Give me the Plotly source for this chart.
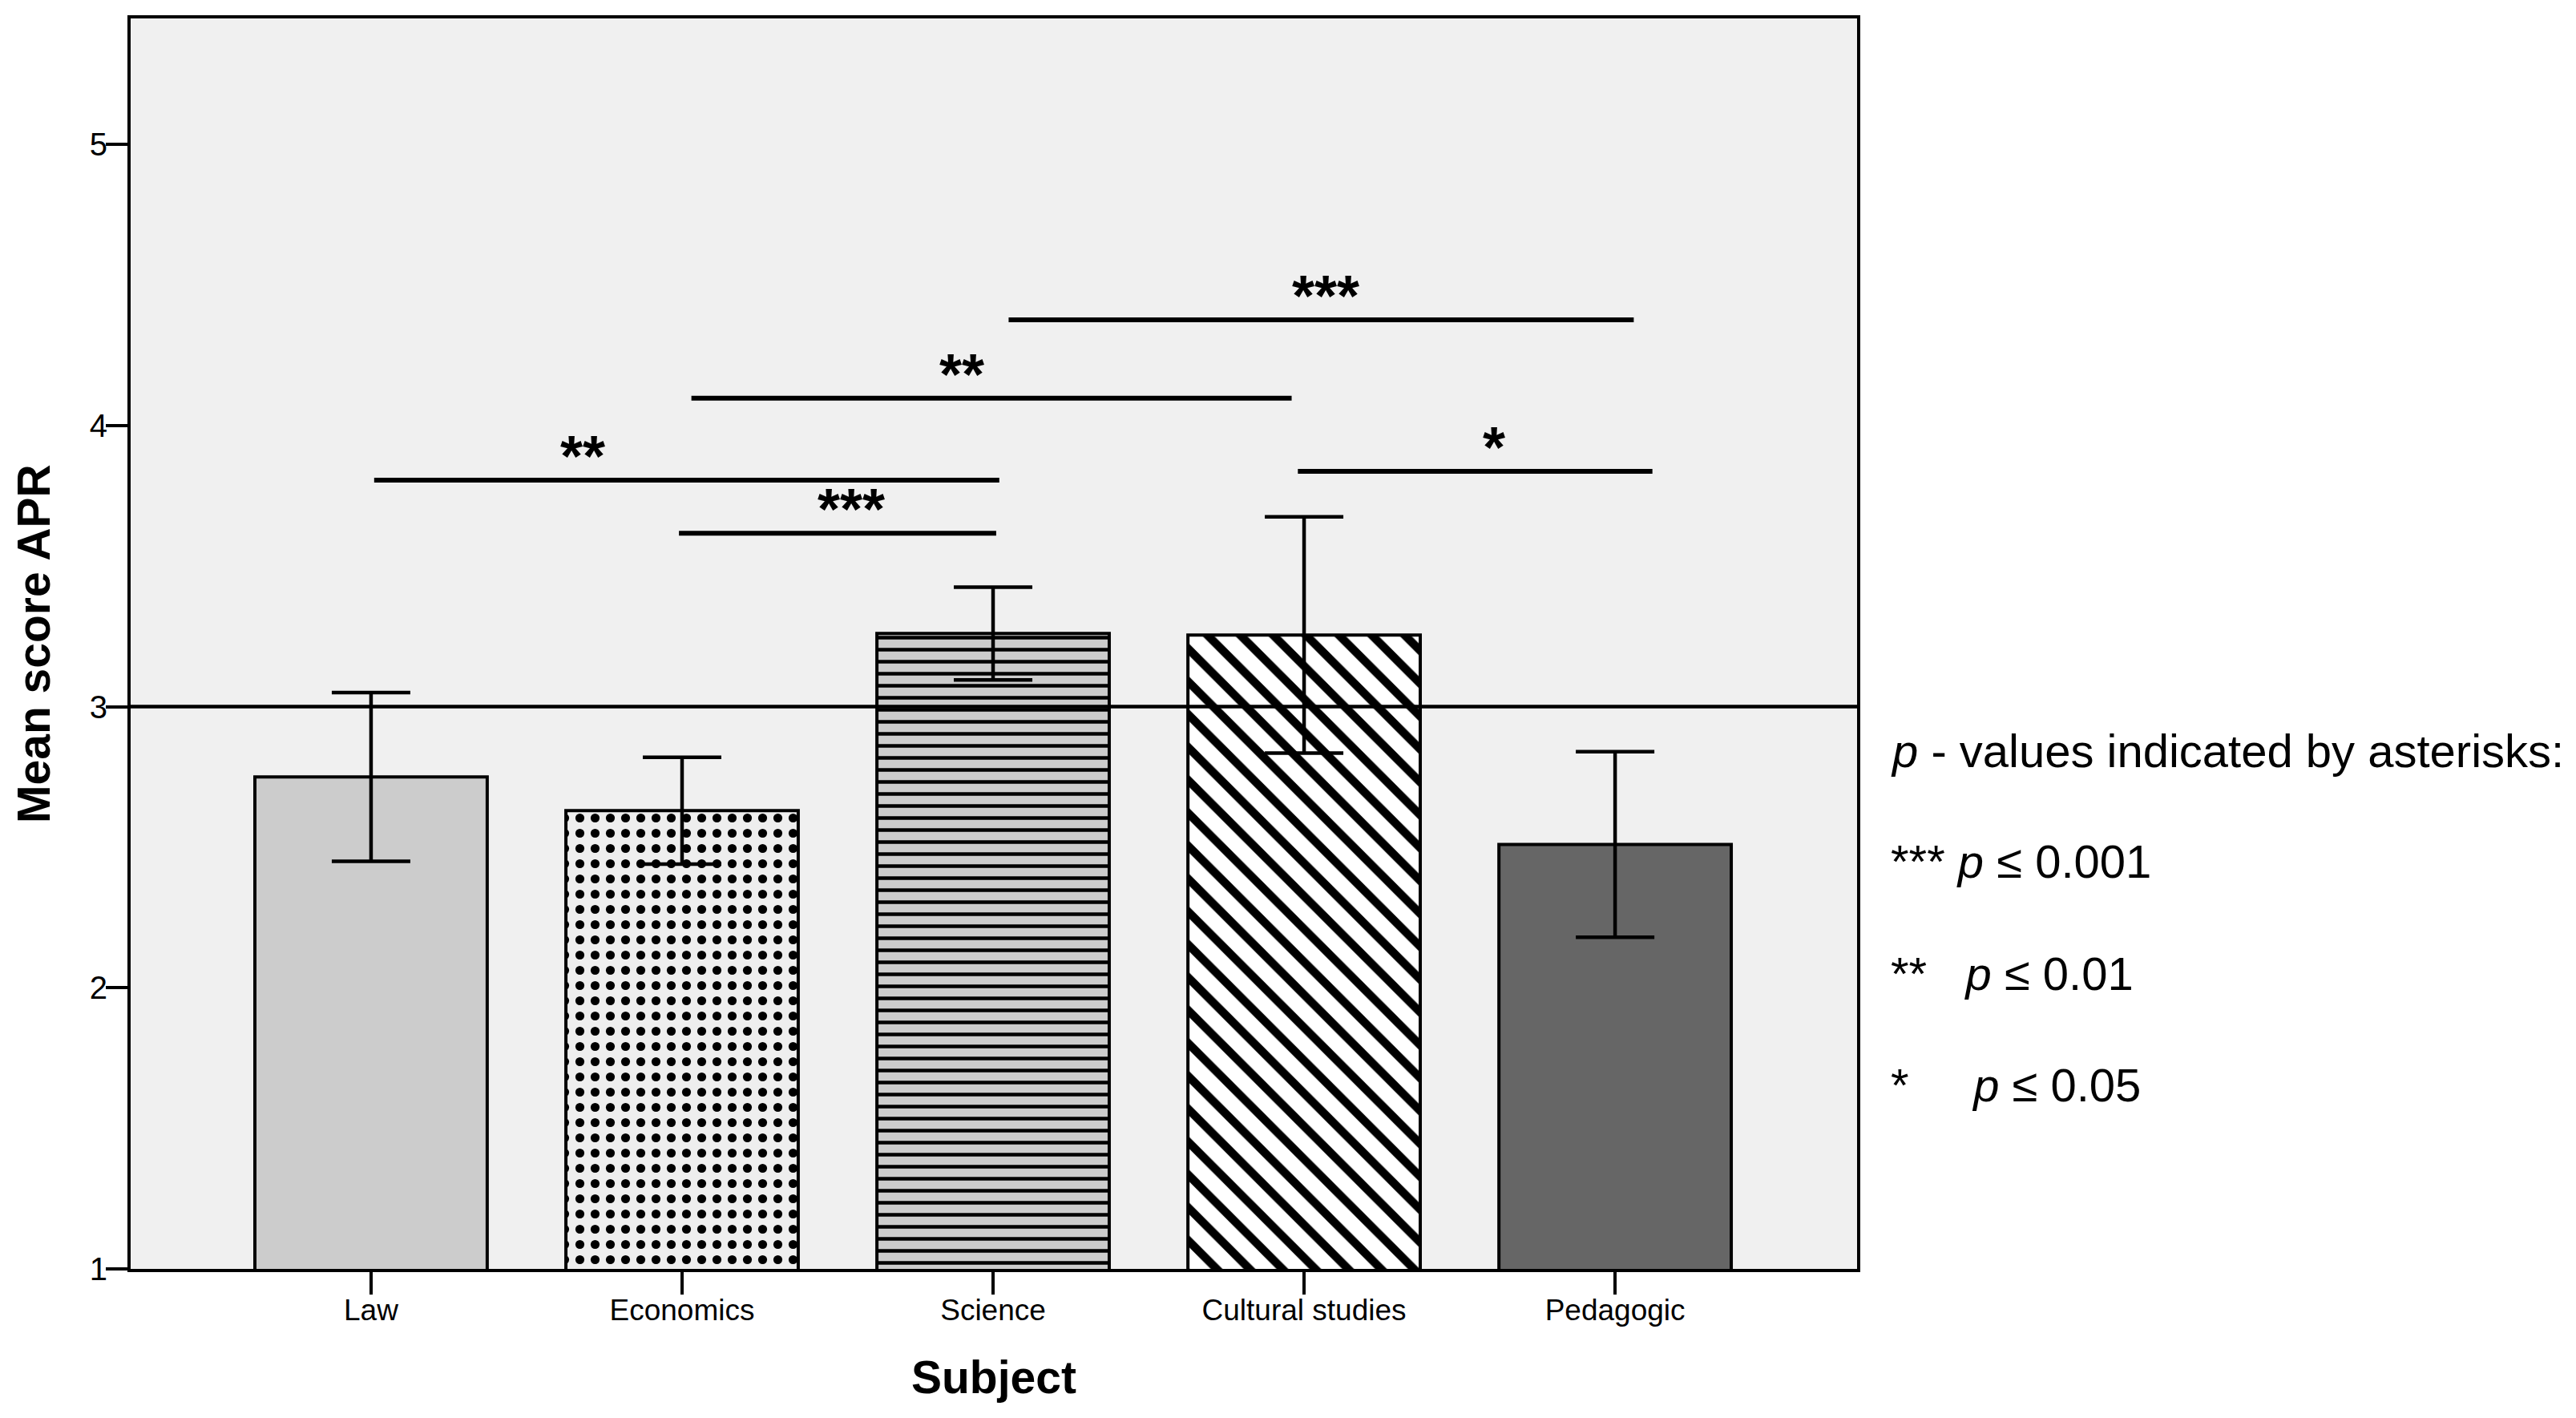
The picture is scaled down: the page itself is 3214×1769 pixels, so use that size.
import plotly.graph_objects as go

# region Data
subjects = ["Law", "Economics", "Science", "Cultural studies", "Pedagogic"]
mean_apr = [2.75, 2.63, 3.26, 3.255, 2.51]
err_apr = [0.30, 0.19, 0.165, 0.42, 0.33]

# significance brackets (category units) and their asterisks
sig_x0 = [0.01, 0.99, 1.03, 2.05, 2.98]
sig_x1 = [2.02, 2.01, 2.96, 4.06, 4.12]
sig_y = [3.806, 3.617, 4.097, 4.376, 3.837]
sig_text = ["**", "***", "**", "***", "*"]
sig_text_x = [0.68, 1.545, 1.90, 3.07, 3.61]

reference_score = 3

note_lines = [
    "<i>p</i> - values indicated by asterisks:",
    "*** <i>p</i> \u2264 0.001",
    "**\u00a0\u00a0\u00a0<i>p</i> \u2264 0.01",
    "*\u00a0\u00a0\u00a0\u00a0\u00a0<i>p</i> \u2264 0.05",
]
# endregion

FONT = "Liberation Sans, Arial, sans-serif"

# page body has an 8px margin, so the plot box is shifted back by that much
W, H = 3214, 1769
L, R, T, B = 155, 905, 15, 194
plot_w = W - L - R
plot_h = H - T - B
AX_BOTTOM = H - B  # pixel row of the x axis inside the figure

# bar styles: plain grey, dotted, horizontal stripes, diagonal stripes, dark grey
bar_colors = ["#cccccc", "#eeeeee", "#cccccc", "#ffffff", "#666666"]
bar_shapes = ["", ".", "-", "\\", ""]
bar_sizes = [10, 19, 15, 29, 10]
bar_solid = [0.3, 0.27, 0.3, 0.36, 0.3]

fig = go.Figure()

for i, name in enumerate(subjects):
    fig.add_trace(go.Bar(
        x=[name],
        y=[mean_apr[i]],
        width=0.747,
        marker=dict(
            color=bar_colors[i],
            line=dict(color="black", width=4),
            pattern=dict(
                shape=bar_shapes[i],
                fgcolor="black",
                fgopacity=1,
                bgcolor=bar_colors[i],
                size=bar_sizes[i],
                solidity=bar_solid[i],
                fillmode="overlay",
            ),
        ),
        error_y=dict(type="data", array=[err_apr[i]], color="black",
                     thickness=4.5, width=49),
        showlegend=False,
    ))

# reference line at score 3
fig.add_shape(type="line", xref="paper", yref="y", x0=0, x1=1,
              y0=reference_score, y1=reference_score,
              line=dict(color="black", width=4.5), layer="above")

# significance lines
for x0, x1, y in zip(sig_x0, sig_x1, sig_y):
    fig.add_shape(type="line", xref="x", yref="y", x0=x0, x1=x1, y0=y, y1=y,
                  line=dict(color="black", width=6), layer="above")

for tx, y, t in zip(sig_text_x, sig_y, sig_text):
    fig.add_annotation(x=tx, y=y, xref="x", yref="y", text="<b>" + t + "</b>",
                       showarrow=False, yanchor="bottom", xanchor="center",
                       yshift=-12, font=dict(family=FONT, size=72, color="black"))

# p-value note on the right
note_y = [937, 1074, 1214, 1353]
for txt, py in zip(note_lines, note_y):
    fig.add_annotation(x=(2357 - 8 - L) / plot_w, y=(AX_BOTTOM + 8 - py) / plot_h,
                       xref="paper", yref="paper", text=txt, showarrow=False,
                       xanchor="left", yanchor="middle",
                       font=dict(family=FONT, size=58, color="black"))

# axis titles
fig.add_annotation(x=(42 - 8 - L) / plot_w, y=0.5, xref="paper", yref="paper",
                   text="<b>Mean score APR</b>", textangle=-90, showarrow=False,
                   xanchor="center", yanchor="middle",
                   font=dict(family=FONT, size=57, color="black"))
fig.add_annotation(x=0.5, y=-(1718 - 8 - AX_BOTTOM) / plot_h, xref="paper", yref="paper",
                   text="<b>Subject</b>", showarrow=False,
                   xanchor="center", yanchor="middle",
                   font=dict(family=FONT, size=57, color="black"))

fig.update_xaxes(
    type="category",
    range=[-0.773, 4.778],
    showline=True, linecolor="black", linewidth=4, mirror=True,
    ticks="outside", ticklen=28, tickwidth=4, tickcolor="black",
    ticklabelstandoff=-12,
    showgrid=False, zeroline=False,
    tickfont=dict(family=FONT, size=37, color="black"),
)
fig.update_yaxes(
    range=[1, 5.448],
    tickvals=[1, 2, 3, 4, 5],
    showline=True, linecolor="black", linewidth=4, mirror=True,
    ticks="outside", ticklen=27, tickwidth=4, tickcolor="black",
    ticklabelstandoff=-10,
    showgrid=False, zeroline=False,
    tickfont=dict(family=FONT, size=40, color="black"),
)

fig.update_layout(
    width=W, height=H,
    margin=dict(l=L, r=R, t=T, b=B, autoexpand=False),
    plot_bgcolor="#f0f0f0",
    paper_bgcolor="white",
    barmode="overlay",
    font=dict(family=FONT, color="black"),
)

fig.write_html("out.html")
